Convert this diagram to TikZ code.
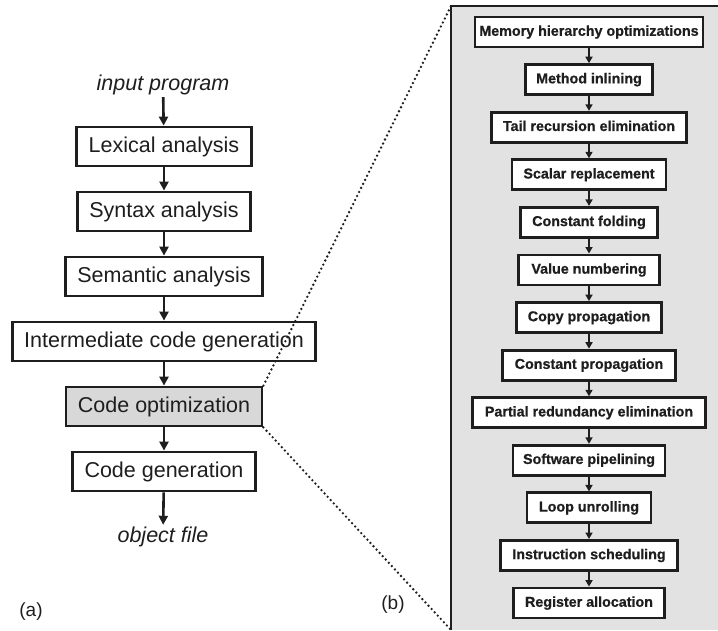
\documentclass[tikz,border=0pt]{standalone}
\usepackage{fontspec}
\setmainfont{Liberation Sans}
\newfontfamily\heavyfont[FakeBold=0.7]{Liberation Sans Bold}
\usetikzlibrary{arrows.meta}
\definecolor{ink}{RGB}{30,30,30}
\definecolor{panel}{RGB}{226,226,226}
\definecolor{optfill}{RGB}{216,216,216}
\begin{document}
\begin{tikzpicture}[x=1pt,y=-1pt,
  lbox/.style={draw=ink, line width=2.8pt, fill=white, text=ink,
    font=\fontsize{21.5}{24}\selectfont, minimum height=39pt,
    inner xsep=12pt, inner ysep=0pt, text height=15.5pt, text depth=4.5pt},
  ltext/.style={text=ink, font=\itshape\fontsize{21.5}{24}\selectfont, inner sep=2pt},
  rbox/.style={draw=ink, line width=2.8pt, fill=white, text=ink,
    font=\heavyfont\fontsize{14.3}{16}\selectfont, minimum height=30pt,
    inner xsep=3pt, inner ysep=0pt, text height=10.5pt, text depth=3pt},
  larrow/.style={draw=ink, line width=2.6pt, -{Triangle[length=9pt,width=9pt]}},
  rarrow/.style={draw=ink, line width=2pt, -{Triangle[length=6.5pt,width=7pt]}},
  dots/.style={draw=ink, line width=2.6pt, line cap=round, dash pattern=on 0pt off 4.5pt},
  lab/.style={text=ink, font=\fontsize{19}{22}\selectfont}
]
\useasboundingbox (0,0) rectangle (718,630);
% panel (b)
\fill[panel] (451,6) rectangle (718,630);
\coordinate (bigtl) at (451,6);
\coordinate (bigbl) at (451,630);
\coordinate (bigtr) at (718,6);
\draw[draw=ink, line width=2.8pt] (bigbl) -- (bigtl) -- (bigtr);

% left flow
\node[ltext] (inp) at (163,85) {input program};
\node[lbox] (lex) at (164,146.5) {Lexical analysis};
\node[lbox] (syn) at (164,211.5) {Syntax analysis};
\node[lbox] (sem) at (164,276.5) {Semantic analysis};
\node[lbox] (icg) at (164,341.5) {Intermediate code generation};
\node[lbox, fill=optfill] (opt) at (164,406.5) {Code optimization};
\node[lbox] (cg) at (164,471.5) {Code generation};
\node[ltext] (obj) at (163,537) {object file};

\draw[larrow] (inp) -- (lex);
\draw[larrow] (lex) -- (syn);
\draw[larrow] (syn) -- (sem);
\draw[larrow] (sem) -- (icg);
\draw[larrow] (icg) -- (opt);
\draw[larrow] (opt) -- (cg);
\draw[larrow] (cg) -- (obj);

% zoom lines
\draw[dots] (opt.north east) -- (bigtl);
\draw[dots] (opt.south east) -- (bigbl);

% right flow
\node[rbox, minimum width=228pt] (r1) at (589,32) {Memory hierarchy optimizations};
\node[rbox, minimum width=127pt] (r2) at (589,79.6) {Method inlining};
\node[rbox, minimum width=195pt] (r3) at (589,127.2) {Tail recursion elimination};
\node[rbox, minimum width=154pt] (r4) at (589,174.7) {Scalar replacement};
\node[rbox, minimum width=137pt] (r5) at (589,222.3) {Constant folding};
\node[rbox, minimum width=141pt] (r6) at (589,269.9) {Value numbering};
\node[rbox, minimum width=145pt] (r7) at (589,317.5) {Copy propagation};
\node[rbox, minimum width=173pt] (r8) at (589,365.1) {Constant propagation};
\node[rbox, minimum width=233pt] (r9) at (589,412.7) {Partial redundancy elimination};
\node[rbox, minimum width=152pt] (r10) at (589,460.2) {Software pipelining};
\node[rbox, minimum width=124pt] (r11) at (589,507.8) {Loop unrolling};
\node[rbox, minimum width=177pt] (r12) at (589,555.4) {Instruction scheduling};
\node[rbox, minimum width=151pt] (r13) at (589,603) {Register allocation};

\foreach \a/\b in {r1/r2,r2/r3,r3/r4,r4/r5,r5/r6,r6/r7,r7/r8,r8/r9,r9/r10,r10/r11,r11/r12,r12/r13}
  \draw[rarrow] (\a) -- (\b);

% labels
\node[lab] (la) at (31,612) {(a)};
\node[lab] (lb) at (393,605) {(b)};
\end{tikzpicture}
\end{document}
